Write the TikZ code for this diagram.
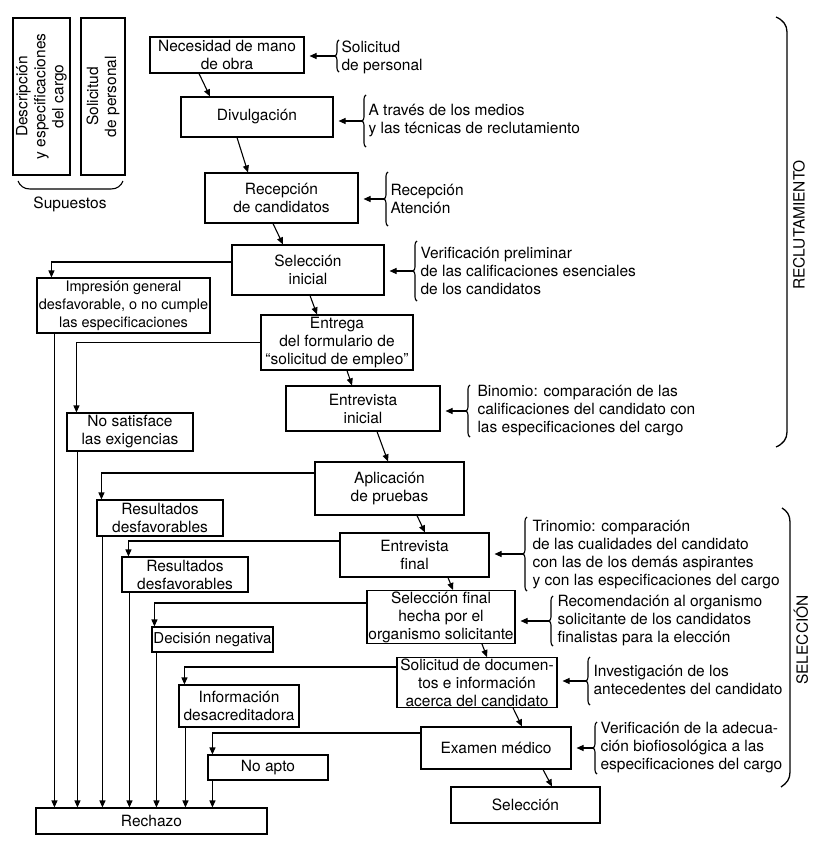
\documentclass[tikz,border=0pt]{standalone}
\usepackage{fontspec}
\setmainfont{TeX Gyre Heros}
\usetikzlibrary{arrows.meta,decorations.pathreplacing,calc}
% curly brace on the left of a note; #1 names its cusp, #2 x, #3 top y, #4 bottom y
\newcommand\sidebrace[4]{%
  \draw[nbrace] (#2,#4) -- (#2,#3);
  \coordinate (#1) at ({#2-4},{(#3+#4)/2});}
\begin{document}
\begin{tikzpicture}[x=1pt,y=-1pt,line width=1.1pt,
  font=\fontsize{15.5}{18}\selectfont,
  box/.style={draw,align=center,inner sep=1pt},
  note/.style={anchor=west,align=left,inner sep=0pt},
  arr/.style={-{Triangle[length=7pt,width=6pt]}},
  sidearr/.style={arr,shorten >=5pt},
  nbrace/.style={decorate,decoration={brace,amplitude=4pt}},
  bracket/.style={line width=1.3pt}]
\useasboundingbox (0,0) rectangle (829,843);

% --- assumptions (rotated boxes) ---
\node[box,rotate=90,minimum width=157pt,minimum height=57pt] (desc) at (41.5,96.5)
  {Descripción\\y especificaciones\\del cargo};
\node[box,rotate=90,minimum width=157pt,minimum height=44pt] (solp) at (103,96.5)
  {Solicitud\\de personal};
\draw (18,181) .. controls (20,186) and (24,189) .. (30,189) -- (111,189)
  .. controls (117,189) and (121,186) .. (123,181);
\node (sup) at (70,204) {Supuestos};

% --- main flow ---
\node[box,minimum width=154pt,minimum height=36pt] (nec) at (227,55) {Necesidad de mano\\de obra};
\node[box,minimum width=152pt,minimum height=40pt] (div) at (257,117) {Divulgación};
\node[box,minimum width=153pt,minimum height=50pt] (rec) at (281.5,198) {Recepción\\de candidatos};
\node[box,minimum width=152pt,minimum height=50pt] (selini) at (308,270) {Selección\\inicial};
\node[box,minimum width=152pt,minimum height=55pt] (ent) at (337,342.5) {Entrega\\del formulario de\\``solicitud de empleo''};
\node[box,minimum width=154pt,minimum height=45pt] (entini) at (363,408.5) {Entrevista\\inicial};
\node[box,minimum width=149pt,minimum height=53pt] (apl) at (389.5,488.5) {Aplicación\\de pruebas};
\node[box,minimum width=149pt,minimum height=44pt] (entfin) at (414.5,555) {Entrevista\\final};
\node[box,minimum width=148pt,minimum height=50pt,inner xsep=0.5pt] (selfin) at (441,617) {Selección final\\hecha por el\\organismo solicitante};
\node[box,minimum width=160pt,minimum height=49pt] (sdoc) at (477,682.5) {Solicitud de documen-\\tos e información\\acerca del candidato};
\node[box,minimum width=150pt,minimum height=42pt] (exam) at (496,748) {Examen médico};
\node[box,minimum width=149pt,minimum height=36pt] (selec) at (525.5,805) {Selección};

% --- rejection branches ---
\node[box,minimum width=173pt,minimum height=55pt,font=\fontsize{14.5}{18}\selectfont] (imp) at (123.5,305.5)
  {Impresión general\\desfavorable, o no cumple\\las especificaciones};
\node[box,minimum width=126pt,minimum height=38pt] (nosat) at (130,432) {No satisface\\las exigencias};
\node[box,minimum width=126pt,minimum height=36pt] (res1) at (160,518) {Resultados\\desfavorables};
\node[box,minimum width=126pt,minimum height=35pt] (res2) at (185,574.5) {Resultados\\desfavorables};
\node[box,minimum width=121pt,minimum height=25pt,inner xsep=0.5pt,font=\fontsize{15}{18}\selectfont] (decneg) at (212.5,639.5) {Decisión negativa};
\node[box,minimum width=120pt,minimum height=42pt] (info) at (239,706) {Información\\desacreditadora};
\node[box,minimum width=120pt,minimum height=25pt] (noapto) at (268,767.5) {No apto};
\node[box,minimum width=231pt,minimum height=26pt] (rech) at (151.5,821) {Rechazo};

% --- flow arrows ---
\draw[arr] ([xshift=-28pt]nec.south) -- ([xshift=-47pt]div.north);
\draw[arr] ([xshift=-20pt]div.south) -- ([xshift=-33.5pt]rec.north);
\draw[arr] ([xshift=-8.5pt]rec.south) -- ([xshift=-25pt]selini.north);
\draw[arr] ([xshift=2pt]selini.south) -- ([xshift=-20pt]ent.north);
\draw[arr] ([xshift=10pt]ent.south) -- ([xshift=-11pt]entini.north);
\draw[arr] ([xshift=14pt]entini.south) -- ([xshift=-1.5pt]apl.north);
\draw[arr] ([xshift=27.5pt]apl.south) -- ([xshift=10.5pt]entfin.north);
\draw[arr] ([xshift=33.5pt]entfin.south) -- ([xshift=12pt]selfin.north);
\draw[arr] ([xshift=41pt]selfin.south) -- ([xshift=10pt]sdoc.north);
\draw[arr] ([xshift=36pt]sdoc.south) -- ([xshift=26pt]exam.north);
\draw[arr] ([xshift=47pt]exam.south) -- ([xshift=26.5pt]selec.north);

% --- branches to the rejection boxes ---
\draw[arr] ($(selini.west)+(0,-8)$) -| ($(imp.north west)+(15,0)$);
\draw[arr] (ent.west) -| ($(nosat.north west)+(10,0)$);
\draw[arr] ($(apl.west)+(0,-15.5)$) -| ($(res1.north west)+(5,0)$);
\draw[arr] ($(entfin.west)+(0,-14)$) -| ($(res2.north west)+(7,0)$);
\draw[arr] ($(selfin.west)+(0,-14)$) -| ($(decneg.north west)+(3,0)$);
\draw[arr] ($(sdoc.west)+(0,-15.5)$) -| ($(info.north west)+(6,0)$);
\draw[arr] ($(exam.west)+(0,-15)$) -| ($(noapto.north west)+(5,0)$);

% --- drops into Rechazo ---
\coordinate (d1) at ($(imp.south west)+(18,0)$);
\coordinate (d2) at ($(nosat.south west)+(11,0)$);
\coordinate (d3) at ($(res1.south west)+(6,0)$);
\coordinate (d4) at ($(res2.south west)+(8,0)$);
\coordinate (d5) at ($(decneg.south west)+(5,0)$);
\coordinate (d6) at ($(info.south west)+(7,0)$);
\coordinate (d7) at ($(noapto.south west)+(5,0)$);
\foreach \d in {d1,d2,d3,d4,d5,d6,d7}
  \draw[arr] (\d) -- (\d |- rech.north);

% --- side notes ---
\node[note] (n1) at (341,57) {Solicitud\\de personal};
\sidebrace{t1}{339}{40}{72}
\node[note] (n2) at (368,121) {A través de los medios\\y las técnicas de reclutamiento};
\sidebrace{t2}{366}{95}{147}
\node[note] (n3) at (390,199) {Recepción\\Atención};
\sidebrace{t3}{388}{172}{226}
\node[note] (n4) at (420,271) {Verificación preliminar\\de las calificaciones esenciales\\de los candidatos};
\sidebrace{t4}{417}{241}{301}
\node[note] (n5) at (477,411) {Binomio: comparación de las\\calificaciones del candidato con\\las especificaciones del cargo};
\sidebrace{t5}{470}{385}{437}
\node[note] (n6) at (532,555) {Trinomio: comparación\\de las cualidades del candidato\\con las de los demás aspirantes\\y con las especificaciones del cargo};
\sidebrace{t6}{527}{517}{591}
\node[note] (n7) at (557,621) {Recomendación al organismo\\solicitante de los candidatos\\finalistas para la elección};
\sidebrace{t7}{553}{596}{646}
\node[note] (n8) at (593,680) {Investigación de los\\antecedentes del candidato};
\sidebrace{t8}{590}{657}{705}
\node[note] (n9) at (600,748) {Verificación de la adecua-\\ción biofiosológica a las\\especificaciones del cargo};
\sidebrace{t9}{597}{722}{774}

\draw[sidearr] (t1) -- (t1 -| nec.east);
\draw[sidearr] (t2) -- (t2 -| div.east);
\draw[sidearr] (t3) -- (t3 -| rec.east);
\draw[sidearr] (t4) -- (t4 -| selini.east);
\draw[sidearr] (t5) -- (t5 -| entini.east);
\draw[sidearr] (t6) -- (t6 -| entfin.east);
\draw[sidearr] (t7) -- (t7 -| selfin.east);
\draw[sidearr] (t8) -- (t8 -| sdoc.east);
\draw[sidearr] (t9) -- (t9 -| exam.east);

% --- phase brackets ---
\draw[bracket] (776,17) .. controls (783,20) and (787,25) .. (787,32) -- (787,432)
  .. controls (787,439) and (783,444) .. (776,447);
\node[rotate=90] (lrec) at (799,225) {RECLUTAMIENTO};
\draw[bracket] (782,508) .. controls (787,511) and (790,515) .. (790,522) -- (790,772)
  .. controls (790,779) and (787,783) .. (781,787);
\node[rotate=90] (lsel) at (801,640) {SELECCIÓN};
\end{tikzpicture}
\end{document}
